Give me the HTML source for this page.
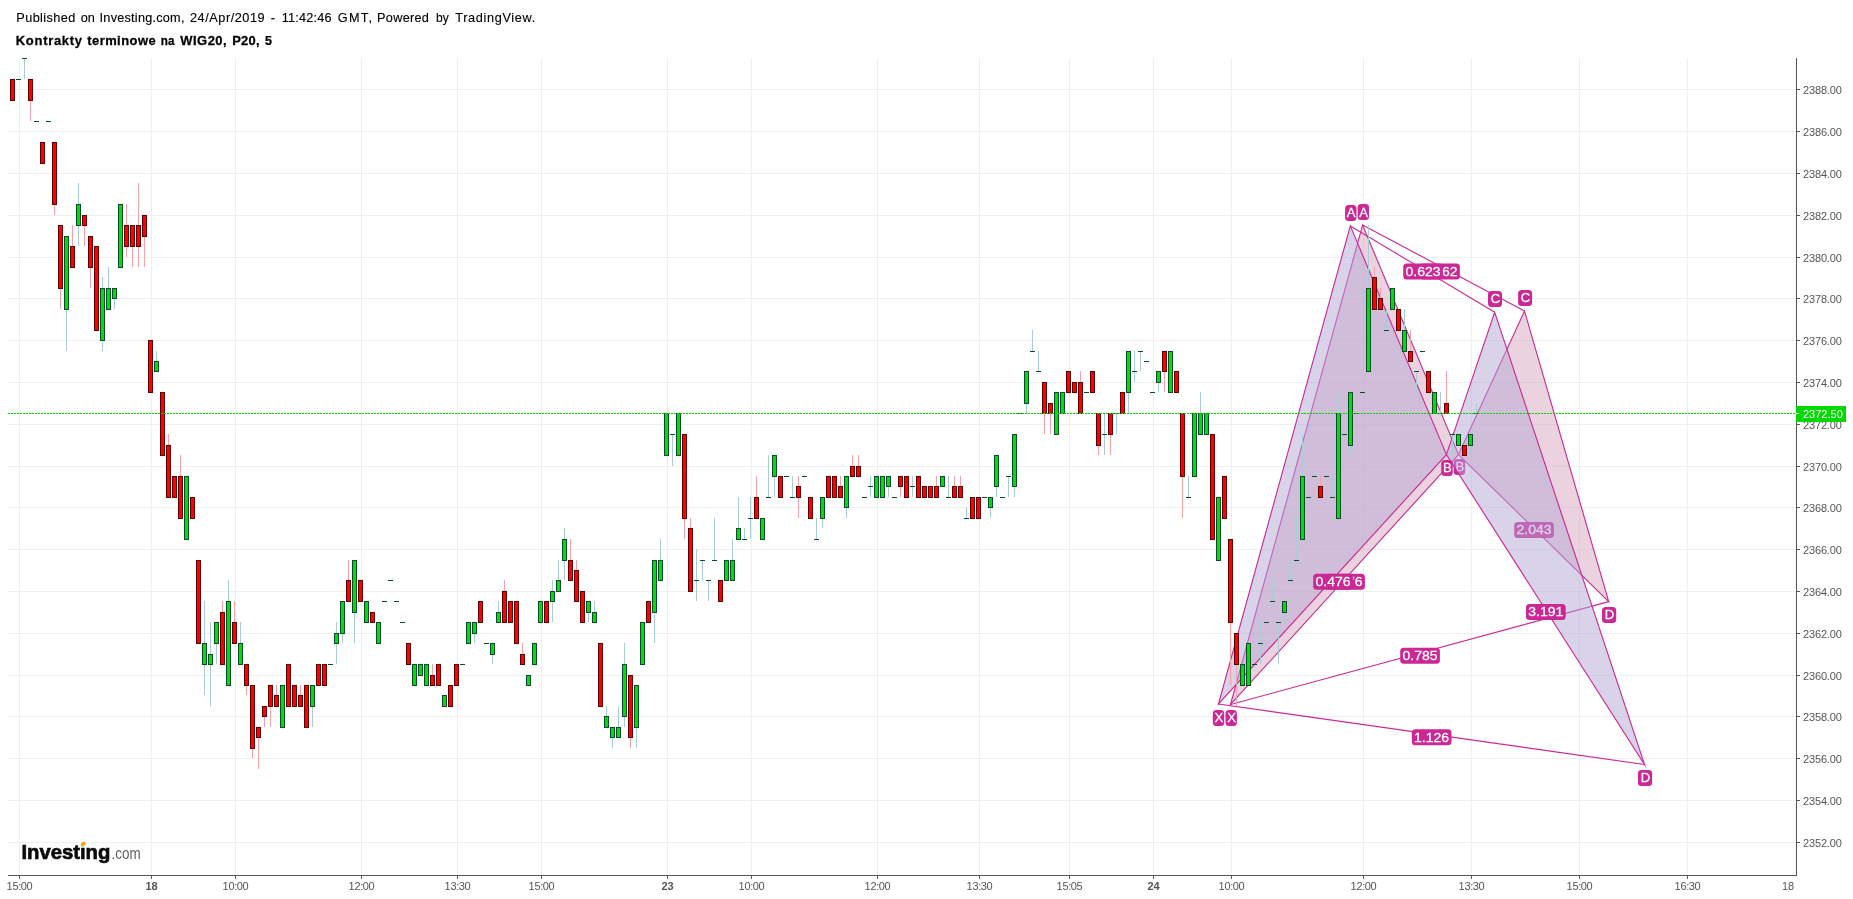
<!DOCTYPE html>
<html><head><meta charset="utf-8"><title>chart</title>
<style>html,body{margin:0;padding:0;background:#fff;}svg{display:block;will-change:transform;}text{font-family:"Liberation Sans",sans-serif;}</style></head><body>
<svg width="1853" height="899" viewBox="0 0 1853 899">
<rect x="0" y="0" width="1853" height="899" fill="#ffffff"/>
<text transform="translate(16.3,21.8) scale(1.060,1)" font-size="12" fill="#000" stroke="#000" stroke-width="0.12" style="letter-spacing:0.368px">Published</text>
<text transform="translate(80.7,21.8) scale(1.060,1)" font-size="12" fill="#000" stroke="#000" stroke-width="0.12" style="letter-spacing:0.019px">on</text>
<text transform="translate(99.6,21.8) scale(1.060,1)" font-size="12" fill="#000" stroke="#000" stroke-width="0.12" style="letter-spacing:0.209px">Investing.com,</text>
<text transform="translate(190.0,21.8) scale(1.060,1)" font-size="12" fill="#000" stroke="#000" stroke-width="0.12" style="letter-spacing:0.504px">24/Apr/2019</text>
<text transform="translate(270.8,21.8) scale(1.060,1)" font-size="12" fill="#000" stroke="#000" stroke-width="0.12" style="letter-spacing:0.000px">-</text>
<text transform="translate(281.7,21.8) scale(1.060,1)" font-size="12" fill="#000" stroke="#000" stroke-width="0.12" style="letter-spacing:0.194px">11:42:46</text>
<text transform="translate(337.8,21.8) scale(1.060,1)" font-size="12" fill="#000" stroke="#000" stroke-width="0.12" style="letter-spacing:1.201px">GMT,</text>
<text transform="translate(377.1,21.8) scale(1.060,1)" font-size="12" fill="#000" stroke="#000" stroke-width="0.12" style="letter-spacing:0.255px">Powered</text>
<text transform="translate(436.1,21.8) scale(1.008,1)" font-size="12" fill="#000" stroke="#000" stroke-width="0.12" style="letter-spacing:0.000px">by</text>
<text transform="translate(455.3,21.8) scale(1.060,1)" font-size="12" fill="#000" stroke="#000" stroke-width="0.12" style="letter-spacing:0.611px">TradingView.</text>
<text transform="translate(15.8,44.6) scale(1.080,1)" font-size="12" font-weight="bold" fill="#000" stroke="#000" stroke-width="0.25" style="letter-spacing:0.674px">Kontrakty</text>
<text transform="translate(87.2,44.6) scale(1.080,1)" font-size="12" font-weight="bold" fill="#000" stroke="#000" stroke-width="0.25" style="letter-spacing:0.428px">terminowe</text>
<text transform="translate(160.8,44.6) scale(0.973,1)" font-size="12" font-weight="bold" fill="#000" stroke="#000" stroke-width="0.25" style="letter-spacing:0.000px">na</text>
<text transform="translate(180.2,44.6) scale(1.080,1)" font-size="12" font-weight="bold" fill="#000" stroke="#000" stroke-width="0.25" style="letter-spacing:0.485px">WIG20,</text>
<text transform="translate(232.2,44.6) scale(1.080,1)" font-size="12" font-weight="bold" fill="#000" stroke="#000" stroke-width="0.25" style="letter-spacing:0.216px">P20,</text>
<text transform="translate(265.0,44.6) scale(1.043,1)" font-size="12" font-weight="bold" fill="#000" stroke="#000" stroke-width="0.25" style="letter-spacing:0.000px">5</text>
<g shape-rendering="crispEdges" fill="#efefef">
<rect x="19" y="58" width="1" height="817"/>
<rect x="151" y="58" width="1" height="817"/>
<rect x="235" y="58" width="1" height="817"/>
<rect x="361" y="58" width="1" height="817"/>
<rect x="457" y="58" width="1" height="817"/>
<rect x="541" y="58" width="1" height="817"/>
<rect x="667" y="58" width="1" height="817"/>
<rect x="751" y="58" width="1" height="817"/>
<rect x="877" y="58" width="1" height="817"/>
<rect x="979" y="58" width="1" height="817"/>
<rect x="1069" y="58" width="1" height="817"/>
<rect x="1153" y="58" width="1" height="817"/>
<rect x="1231" y="58" width="1" height="817"/>
<rect x="1363" y="58" width="1" height="817"/>
<rect x="1471" y="58" width="1" height="817"/>
<rect x="1579" y="58" width="1" height="817"/>
<rect x="1687" y="58" width="1" height="817"/>
<rect x="8" y="842" width="1788" height="1"/>
<rect x="8" y="800" width="1788" height="1"/>
<rect x="8" y="758" width="1788" height="1"/>
<rect x="8" y="716" width="1788" height="1"/>
<rect x="8" y="675" width="1788" height="1"/>
<rect x="8" y="633" width="1788" height="1"/>
<rect x="8" y="591" width="1788" height="1"/>
<rect x="8" y="549" width="1788" height="1"/>
<rect x="8" y="507" width="1788" height="1"/>
<rect x="8" y="466" width="1788" height="1"/>
<rect x="8" y="424" width="1788" height="1"/>
<rect x="8" y="382" width="1788" height="1"/>
<rect x="8" y="340" width="1788" height="1"/>
<rect x="8" y="298" width="1788" height="1"/>
<rect x="8" y="257" width="1788" height="1"/>
<rect x="8" y="215" width="1788" height="1"/>
<rect x="8" y="173" width="1788" height="1"/>
<rect x="8" y="131" width="1788" height="1"/>
<rect x="8" y="89" width="1788" height="1"/>
</g>
<g stroke="#cc2895" stroke-width="1.12" stroke-linejoin="miter" stroke-miterlimit="10">
<polygon points="1230.5,704.5 1362.6,225.1 1458.5,454.6" fill="rgba(213,166,189,0.5)"/>
<polygon points="1458.5,454.6 1524.5,311.0 1608.7,601.6" fill="rgba(213,166,189,0.5)"/>
<polyline points="1362.6,225.1 1524.5,311.0" fill="none"/>
<polyline points="1230.5,704.5 1608.7,601.6" fill="none"/>
</g>
<g><rect x="1225.5" y="710.0" width="11.4" height="16.0" rx="3.5" ry="3.5" fill="#cc2895"/><text transform="translate(1231.6,722.4) scale(1.06,1)" font-size="12.4" fill="#fff" stroke="#fff" stroke-width="0.25" text-anchor="middle">X</text></g>
<g><rect x="1357.6" y="204.1" width="11.4" height="16.0" rx="3.5" ry="3.5" fill="#cc2895"/><text transform="translate(1363.7,216.5) scale(1.06,1)" font-size="12.4" fill="#fff" stroke="#fff" stroke-width="0.25" text-anchor="middle">A</text></g>
<g><rect x="1453.7" y="458.9" width="11.4" height="16.0" rx="3.5" ry="3.5" fill="#cc2895"/><text transform="translate(1459.8,471.3) scale(1.06,1)" font-size="12.4" fill="#fff" stroke="#fff" stroke-width="0.25" text-anchor="middle">B</text></g>
<g><rect x="1518.1" y="290.0" width="14.0" height="16.0" rx="3.5" ry="3.5" fill="#cc2895"/><text transform="translate(1525.5,302.4) scale(1.06,1)" font-size="12.4" fill="#fff" stroke="#fff" stroke-width="0.25" text-anchor="middle">C</text></g>
<g><rect x="1602.0" y="607.0" width="14.2" height="16.0" rx="3.5" ry="3.5" fill="#cc2895"/><text transform="translate(1609.5,619.4) scale(1.06,1)" font-size="12.4" fill="#fff" stroke="#fff" stroke-width="0.25" text-anchor="middle">D</text></g>
<g><rect x="1325.2" y="573.8" width="39.7" height="16.0" rx="3.5" ry="3.5" fill="#cc2895"/><text transform="translate(1345.0,586.2) scale(1.13,1)" font-size="12.4" fill="#fff" stroke="#fff" stroke-width="0.25" text-anchor="middle">0.476</text></g>
<g><rect x="1420.2" y="263.5" width="39.7" height="16.0" rx="3.5" ry="3.5" fill="#cc2895"/><text transform="translate(1440.0,275.9) scale(1.13,1)" font-size="12.4" fill="#fff" stroke="#fff" stroke-width="0.25" text-anchor="middle">0.662</text></g>
<g><rect x="1514.2" y="522.0" width="39.7" height="16.0" rx="3.5" ry="3.5" fill="#cc2895"/><text transform="translate(1534.1,534.4) scale(1.13,1)" font-size="12.4" fill="#fff" stroke="#fff" stroke-width="0.25" text-anchor="middle">2.043</text></g>
<g><rect x="1400.2" y="647.7" width="39.7" height="16.0" rx="3.5" ry="3.5" fill="#cc2895"/><text transform="translate(1420.0,660.1) scale(1.13,1)" font-size="12.4" fill="#fff" stroke="#fff" stroke-width="0.25" text-anchor="middle">0.785</text></g>
<g stroke="#cc2895" stroke-width="1.12" stroke-linejoin="miter" stroke-miterlimit="10">
<polygon points="1218.5,704.0 1350.3,225.9 1446.4,454.6" fill="rgba(180,167,214,0.5)"/>
<polygon points="1446.4,454.6 1494.7,312.3 1644.5,764.5" fill="rgba(180,167,214,0.5)"/>
<polyline points="1350.3,225.9 1494.7,312.3" fill="none"/>
<polyline points="1218.5,704.0 1644.5,764.5" fill="none"/>
</g>
<g><rect x="1212.8" y="710.0" width="11.4" height="16.0" rx="3.5" ry="3.5" fill="#cc2895"/><text transform="translate(1218.9,722.4) scale(1.06,1)" font-size="12.4" fill="#fff" stroke="#fff" stroke-width="0.25" text-anchor="middle">X</text></g>
<g><rect x="1345.1" y="204.9" width="11.4" height="16.0" rx="3.5" ry="3.5" fill="#cc2895"/><text transform="translate(1351.2,217.3) scale(1.06,1)" font-size="12.4" fill="#fff" stroke="#fff" stroke-width="0.25" text-anchor="middle">A</text></g>
<g><rect x="1441.3" y="460.0" width="11.4" height="16.0" rx="3.5" ry="3.5" fill="#cc2895"/><text transform="translate(1447.4,472.4) scale(1.06,1)" font-size="12.4" fill="#fff" stroke="#fff" stroke-width="0.25" text-anchor="middle">B</text></g>
<g><rect x="1488.0" y="290.9" width="14.0" height="16.0" rx="3.5" ry="3.5" fill="#cc2895"/><text transform="translate(1495.4,303.3) scale(1.06,1)" font-size="12.4" fill="#fff" stroke="#fff" stroke-width="0.25" text-anchor="middle">C</text></g>
<g><rect x="1637.9" y="770.0" width="14.2" height="16.0" rx="3.5" ry="3.5" fill="#cc2895"/><text transform="translate(1645.4,782.4) scale(1.06,1)" font-size="12.4" fill="#fff" stroke="#fff" stroke-width="0.25" text-anchor="middle">D</text></g>
<g><rect x="1313.2" y="573.8" width="39.7" height="16.0" rx="3.5" ry="3.5" fill="#cc2895"/><text transform="translate(1333.0,586.2) scale(1.13,1)" font-size="12.4" fill="#fff" stroke="#fff" stroke-width="0.25" text-anchor="middle">0.476</text></g>
<g><rect x="1403.2" y="263.5" width="39.7" height="16.0" rx="3.5" ry="3.5" fill="#cc2895"/><text transform="translate(1423.0,275.9) scale(1.13,1)" font-size="12.4" fill="#fff" stroke="#fff" stroke-width="0.25" text-anchor="middle">0.623</text></g>
<g><rect x="1526.0" y="603.9" width="39.7" height="16.0" rx="3.5" ry="3.5" fill="#cc2895"/><text transform="translate(1545.8,616.3) scale(1.13,1)" font-size="12.4" fill="#fff" stroke="#fff" stroke-width="0.25" text-anchor="middle">3.191</text></g>
<g><rect x="1411.8" y="729.3" width="39.7" height="16.0" rx="3.5" ry="3.5" fill="#cc2895"/><text transform="translate(1431.6,741.7) scale(1.13,1)" font-size="12.4" fill="#fff" stroke="#fff" stroke-width="0.25" text-anchor="middle">1.126</text></g>
<g shape-rendering="crispEdges">
<rect x="10" y="79" width="5" height="22" fill="#5a0000"/>
<rect x="11" y="80" width="3" height="20" fill="#ff0000"/>
<rect x="16" y="79" width="5" height="1" fill="#0b4a2c"/>
<rect x="24" y="59" width="1" height="20" fill="#a9ccd6"/>
<rect x="22" y="58" width="5" height="1" fill="#0b4a2c"/>
<rect x="30" y="101" width="1" height="20" fill="#f4a3ac"/>
<rect x="28" y="79" width="5" height="22" fill="#5a0000"/>
<rect x="29" y="80" width="3" height="20" fill="#ff0000"/>
<rect x="34" y="121" width="5" height="1" fill="#0b4a2c"/>
<rect x="40" y="142" width="5" height="22" fill="#5a0000"/>
<rect x="41" y="143" width="3" height="20" fill="#ff0000"/>
<rect x="46" y="121" width="5" height="1" fill="#0b4a2c"/>
<rect x="54" y="205" width="1" height="10" fill="#f4a3ac"/>
<rect x="52" y="142" width="5" height="63" fill="#5a0000"/>
<rect x="53" y="143" width="3" height="61" fill="#ff0000"/>
<rect x="60" y="289" width="1" height="20" fill="#f4a3ac"/>
<rect x="58" y="225" width="5" height="64" fill="#5a0000"/>
<rect x="59" y="226" width="3" height="62" fill="#ff0000"/>
<rect x="66" y="310" width="1" height="41" fill="#a9ccd6"/>
<rect x="64" y="236" width="5" height="74" fill="#0b4a2c"/>
<rect x="65" y="237" width="3" height="72" fill="#00e000"/>
<rect x="72" y="225" width="1" height="21" fill="#f4a3ac"/>
<rect x="70" y="246" width="5" height="22" fill="#5a0000"/>
<rect x="71" y="247" width="3" height="20" fill="#ff0000"/>
<rect x="78" y="183" width="1" height="21" fill="#a9ccd6"/>
<rect x="78" y="226" width="1" height="20" fill="#a9ccd6"/>
<rect x="76" y="204" width="5" height="22" fill="#0b4a2c"/>
<rect x="77" y="205" width="3" height="20" fill="#00e000"/>
<rect x="84" y="226" width="1" height="20" fill="#f4a3ac"/>
<rect x="82" y="215" width="5" height="11" fill="#5a0000"/>
<rect x="83" y="216" width="3" height="9" fill="#ff0000"/>
<rect x="90" y="268" width="1" height="20" fill="#f4a3ac"/>
<rect x="88" y="236" width="5" height="32" fill="#5a0000"/>
<rect x="89" y="237" width="3" height="30" fill="#ff0000"/>
<rect x="94" y="246" width="5" height="85" fill="#5a0000"/>
<rect x="95" y="247" width="3" height="83" fill="#ff0000"/>
<rect x="102" y="277" width="1" height="11" fill="#a9ccd6"/>
<rect x="102" y="341" width="1" height="10" fill="#a9ccd6"/>
<rect x="100" y="288" width="5" height="53" fill="#0b4a2c"/>
<rect x="101" y="289" width="3" height="51" fill="#00e000"/>
<rect x="108" y="267" width="1" height="21" fill="#a9ccd6"/>
<rect x="106" y="288" width="5" height="22" fill="#0b4a2c"/>
<rect x="107" y="289" width="3" height="20" fill="#00e000"/>
<rect x="114" y="299" width="1" height="10" fill="#a9ccd6"/>
<rect x="112" y="288" width="5" height="11" fill="#0b4a2c"/>
<rect x="113" y="289" width="3" height="9" fill="#00e000"/>
<rect x="118" y="204" width="5" height="64" fill="#0b4a2c"/>
<rect x="119" y="205" width="3" height="62" fill="#00e000"/>
<rect x="126" y="204" width="1" height="21" fill="#f4a3ac"/>
<rect x="126" y="247" width="1" height="10" fill="#f4a3ac"/>
<rect x="124" y="225" width="5" height="22" fill="#5a0000"/>
<rect x="125" y="226" width="3" height="20" fill="#ff0000"/>
<rect x="132" y="247" width="1" height="20" fill="#f4a3ac"/>
<rect x="130" y="225" width="5" height="22" fill="#5a0000"/>
<rect x="131" y="226" width="3" height="20" fill="#ff0000"/>
<rect x="138" y="183" width="1" height="42" fill="#f4a3ac"/>
<rect x="138" y="247" width="1" height="20" fill="#f4a3ac"/>
<rect x="136" y="225" width="5" height="22" fill="#5a0000"/>
<rect x="137" y="226" width="3" height="20" fill="#ff0000"/>
<rect x="144" y="237" width="1" height="30" fill="#f4a3ac"/>
<rect x="142" y="215" width="5" height="22" fill="#5a0000"/>
<rect x="143" y="216" width="3" height="20" fill="#ff0000"/>
<rect x="148" y="340" width="5" height="53" fill="#5a0000"/>
<rect x="149" y="341" width="3" height="51" fill="#ff0000"/>
<rect x="156" y="351" width="1" height="10" fill="#a9ccd6"/>
<rect x="154" y="361" width="5" height="11" fill="#0b4a2c"/>
<rect x="155" y="362" width="3" height="9" fill="#00e000"/>
<rect x="160" y="392" width="5" height="64" fill="#5a0000"/>
<rect x="161" y="393" width="3" height="62" fill="#ff0000"/>
<rect x="168" y="434" width="1" height="11" fill="#f4a3ac"/>
<rect x="166" y="445" width="5" height="53" fill="#5a0000"/>
<rect x="167" y="446" width="3" height="51" fill="#ff0000"/>
<rect x="172" y="476" width="5" height="22" fill="#5a0000"/>
<rect x="173" y="477" width="3" height="20" fill="#ff0000"/>
<rect x="180" y="455" width="1" height="21" fill="#f4a3ac"/>
<rect x="178" y="476" width="5" height="43" fill="#5a0000"/>
<rect x="179" y="477" width="3" height="41" fill="#ff0000"/>
<rect x="184" y="476" width="5" height="64" fill="#0b4a2c"/>
<rect x="185" y="477" width="3" height="62" fill="#00e000"/>
<rect x="190" y="497" width="5" height="22" fill="#5a0000"/>
<rect x="191" y="498" width="3" height="20" fill="#ff0000"/>
<rect x="196" y="560" width="5" height="84" fill="#5a0000"/>
<rect x="197" y="561" width="3" height="82" fill="#ff0000"/>
<rect x="204" y="601" width="1" height="42" fill="#a9ccd6"/>
<rect x="204" y="665" width="1" height="30" fill="#a9ccd6"/>
<rect x="202" y="643" width="5" height="22" fill="#0b4a2c"/>
<rect x="203" y="644" width="3" height="20" fill="#00e000"/>
<rect x="210" y="622" width="1" height="32" fill="#a9ccd6"/>
<rect x="210" y="665" width="1" height="41" fill="#a9ccd6"/>
<rect x="208" y="654" width="5" height="11" fill="#0b4a2c"/>
<rect x="209" y="655" width="3" height="9" fill="#00e000"/>
<rect x="216" y="644" width="1" height="20" fill="#a9ccd6"/>
<rect x="214" y="622" width="5" height="22" fill="#0b4a2c"/>
<rect x="215" y="623" width="3" height="20" fill="#00e000"/>
<rect x="222" y="601" width="1" height="11" fill="#f4a3ac"/>
<rect x="220" y="612" width="5" height="53" fill="#5a0000"/>
<rect x="221" y="613" width="3" height="51" fill="#ff0000"/>
<rect x="228" y="580" width="1" height="21" fill="#a9ccd6"/>
<rect x="226" y="601" width="5" height="85" fill="#0b4a2c"/>
<rect x="227" y="602" width="3" height="83" fill="#00e000"/>
<rect x="234" y="601" width="1" height="21" fill="#f4a3ac"/>
<rect x="232" y="622" width="5" height="22" fill="#5a0000"/>
<rect x="233" y="623" width="3" height="20" fill="#ff0000"/>
<rect x="240" y="622" width="1" height="21" fill="#a9ccd6"/>
<rect x="238" y="643" width="5" height="22" fill="#0b4a2c"/>
<rect x="239" y="644" width="3" height="20" fill="#00e000"/>
<rect x="246" y="686" width="1" height="9" fill="#f4a3ac"/>
<rect x="244" y="664" width="5" height="22" fill="#5a0000"/>
<rect x="245" y="665" width="3" height="20" fill="#ff0000"/>
<rect x="252" y="749" width="1" height="9" fill="#f4a3ac"/>
<rect x="250" y="685" width="5" height="64" fill="#5a0000"/>
<rect x="251" y="686" width="3" height="62" fill="#ff0000"/>
<rect x="258" y="738" width="1" height="31" fill="#f4a3ac"/>
<rect x="256" y="727" width="5" height="11" fill="#5a0000"/>
<rect x="257" y="728" width="3" height="9" fill="#ff0000"/>
<rect x="264" y="717" width="1" height="10" fill="#f4a3ac"/>
<rect x="262" y="706" width="5" height="11" fill="#5a0000"/>
<rect x="263" y="707" width="3" height="9" fill="#ff0000"/>
<rect x="270" y="707" width="1" height="20" fill="#f4a3ac"/>
<rect x="268" y="685" width="5" height="22" fill="#5a0000"/>
<rect x="269" y="686" width="3" height="20" fill="#ff0000"/>
<rect x="276" y="685" width="1" height="10" fill="#f4a3ac"/>
<rect x="274" y="695" width="5" height="12" fill="#5a0000"/>
<rect x="275" y="696" width="3" height="10" fill="#ff0000"/>
<rect x="280" y="685" width="5" height="43" fill="#0b4a2c"/>
<rect x="281" y="686" width="3" height="41" fill="#00e000"/>
<rect x="286" y="664" width="5" height="43" fill="#5a0000"/>
<rect x="287" y="665" width="3" height="41" fill="#ff0000"/>
<rect x="292" y="685" width="5" height="22" fill="#5a0000"/>
<rect x="293" y="686" width="3" height="20" fill="#ff0000"/>
<rect x="300" y="685" width="1" height="10" fill="#f4a3ac"/>
<rect x="298" y="695" width="5" height="12" fill="#5a0000"/>
<rect x="299" y="696" width="3" height="10" fill="#ff0000"/>
<rect x="304" y="685" width="5" height="43" fill="#5a0000"/>
<rect x="305" y="686" width="3" height="41" fill="#ff0000"/>
<rect x="312" y="707" width="1" height="20" fill="#a9ccd6"/>
<rect x="310" y="685" width="5" height="22" fill="#0b4a2c"/>
<rect x="311" y="686" width="3" height="20" fill="#00e000"/>
<rect x="316" y="664" width="5" height="22" fill="#5a0000"/>
<rect x="317" y="665" width="3" height="20" fill="#ff0000"/>
<rect x="322" y="664" width="5" height="22" fill="#5a0000"/>
<rect x="323" y="665" width="3" height="20" fill="#ff0000"/>
<rect x="328" y="664" width="5" height="1" fill="#0b4a2c"/>
<rect x="336" y="622" width="1" height="11" fill="#a9ccd6"/>
<rect x="336" y="644" width="1" height="20" fill="#a9ccd6"/>
<rect x="334" y="633" width="5" height="11" fill="#0b4a2c"/>
<rect x="335" y="634" width="3" height="9" fill="#00e000"/>
<rect x="342" y="634" width="1" height="9" fill="#a9ccd6"/>
<rect x="340" y="601" width="5" height="33" fill="#0b4a2c"/>
<rect x="341" y="602" width="3" height="31" fill="#00e000"/>
<rect x="348" y="560" width="1" height="20" fill="#f4a3ac"/>
<rect x="346" y="580" width="5" height="22" fill="#5a0000"/>
<rect x="347" y="581" width="3" height="20" fill="#ff0000"/>
<rect x="354" y="613" width="1" height="30" fill="#a9ccd6"/>
<rect x="352" y="560" width="5" height="53" fill="#0b4a2c"/>
<rect x="353" y="561" width="3" height="51" fill="#00e000"/>
<rect x="358" y="580" width="5" height="22" fill="#5a0000"/>
<rect x="359" y="581" width="3" height="20" fill="#ff0000"/>
<rect x="364" y="601" width="5" height="22" fill="#0b4a2c"/>
<rect x="365" y="602" width="3" height="20" fill="#00e000"/>
<rect x="370" y="612" width="5" height="11" fill="#5a0000"/>
<rect x="371" y="613" width="3" height="9" fill="#ff0000"/>
<rect x="376" y="622" width="5" height="22" fill="#0b4a2c"/>
<rect x="377" y="623" width="3" height="20" fill="#00e000"/>
<rect x="382" y="601" width="5" height="1" fill="#0b4a2c"/>
<rect x="388" y="580" width="5" height="1" fill="#0b4a2c"/>
<rect x="394" y="601" width="5" height="1" fill="#0b4a2c"/>
<rect x="400" y="622" width="5" height="1" fill="#0b4a2c"/>
<rect x="406" y="643" width="5" height="22" fill="#5a0000"/>
<rect x="407" y="644" width="3" height="20" fill="#ff0000"/>
<rect x="412" y="664" width="5" height="22" fill="#0b4a2c"/>
<rect x="413" y="665" width="3" height="20" fill="#00e000"/>
<rect x="418" y="664" width="5" height="12" fill="#0b4a2c"/>
<rect x="419" y="665" width="3" height="10" fill="#00e000"/>
<rect x="424" y="664" width="5" height="22" fill="#0b4a2c"/>
<rect x="425" y="665" width="3" height="20" fill="#00e000"/>
<rect x="432" y="664" width="1" height="11" fill="#f4a3ac"/>
<rect x="430" y="675" width="5" height="11" fill="#5a0000"/>
<rect x="431" y="676" width="3" height="9" fill="#ff0000"/>
<rect x="436" y="664" width="5" height="22" fill="#5a0000"/>
<rect x="437" y="665" width="3" height="20" fill="#ff0000"/>
<rect x="442" y="695" width="5" height="12" fill="#0b4a2c"/>
<rect x="443" y="696" width="3" height="10" fill="#00e000"/>
<rect x="448" y="685" width="5" height="22" fill="#5a0000"/>
<rect x="449" y="686" width="3" height="20" fill="#ff0000"/>
<rect x="454" y="664" width="5" height="22" fill="#5a0000"/>
<rect x="455" y="665" width="3" height="20" fill="#ff0000"/>
<rect x="460" y="664" width="5" height="1" fill="#0b4a2c"/>
<rect x="466" y="622" width="5" height="22" fill="#0b4a2c"/>
<rect x="467" y="623" width="3" height="20" fill="#00e000"/>
<rect x="474" y="634" width="1" height="9" fill="#a9ccd6"/>
<rect x="472" y="622" width="5" height="12" fill="#0b4a2c"/>
<rect x="473" y="623" width="3" height="10" fill="#00e000"/>
<rect x="478" y="601" width="5" height="22" fill="#5a0000"/>
<rect x="479" y="602" width="3" height="20" fill="#ff0000"/>
<rect x="484" y="643" width="5" height="1" fill="#0b4a2c"/>
<rect x="492" y="655" width="1" height="9" fill="#a9ccd6"/>
<rect x="490" y="643" width="5" height="12" fill="#0b4a2c"/>
<rect x="491" y="644" width="3" height="10" fill="#00e000"/>
<rect x="498" y="601" width="1" height="11" fill="#a9ccd6"/>
<rect x="496" y="612" width="5" height="11" fill="#0b4a2c"/>
<rect x="497" y="613" width="3" height="9" fill="#00e000"/>
<rect x="504" y="580" width="1" height="11" fill="#f4a3ac"/>
<rect x="502" y="591" width="5" height="32" fill="#5a0000"/>
<rect x="503" y="592" width="3" height="30" fill="#ff0000"/>
<rect x="508" y="601" width="5" height="22" fill="#5a0000"/>
<rect x="509" y="602" width="3" height="20" fill="#ff0000"/>
<rect x="514" y="601" width="5" height="43" fill="#5a0000"/>
<rect x="515" y="602" width="3" height="41" fill="#ff0000"/>
<rect x="522" y="643" width="1" height="11" fill="#f4a3ac"/>
<rect x="520" y="654" width="5" height="11" fill="#5a0000"/>
<rect x="521" y="655" width="3" height="9" fill="#ff0000"/>
<rect x="526" y="675" width="5" height="11" fill="#0b4a2c"/>
<rect x="527" y="676" width="3" height="9" fill="#00e000"/>
<rect x="532" y="643" width="5" height="22" fill="#0b4a2c"/>
<rect x="533" y="644" width="3" height="20" fill="#00e000"/>
<rect x="538" y="601" width="5" height="22" fill="#0b4a2c"/>
<rect x="539" y="602" width="3" height="20" fill="#00e000"/>
<rect x="544" y="601" width="5" height="22" fill="#5a0000"/>
<rect x="545" y="602" width="3" height="20" fill="#ff0000"/>
<rect x="552" y="580" width="1" height="11" fill="#a9ccd6"/>
<rect x="552" y="602" width="1" height="20" fill="#a9ccd6"/>
<rect x="550" y="591" width="5" height="11" fill="#0b4a2c"/>
<rect x="551" y="592" width="3" height="9" fill="#00e000"/>
<rect x="558" y="560" width="1" height="20" fill="#a9ccd6"/>
<rect x="556" y="580" width="5" height="12" fill="#0b4a2c"/>
<rect x="557" y="581" width="3" height="10" fill="#00e000"/>
<rect x="564" y="528" width="1" height="11" fill="#a9ccd6"/>
<rect x="564" y="561" width="1" height="19" fill="#a9ccd6"/>
<rect x="562" y="539" width="5" height="22" fill="#0b4a2c"/>
<rect x="563" y="540" width="3" height="20" fill="#00e000"/>
<rect x="570" y="539" width="1" height="21" fill="#f4a3ac"/>
<rect x="568" y="560" width="5" height="21" fill="#5a0000"/>
<rect x="569" y="561" width="3" height="19" fill="#ff0000"/>
<rect x="576" y="560" width="1" height="10" fill="#f4a3ac"/>
<rect x="574" y="570" width="5" height="32" fill="#5a0000"/>
<rect x="575" y="571" width="3" height="30" fill="#ff0000"/>
<rect x="580" y="591" width="5" height="32" fill="#5a0000"/>
<rect x="581" y="592" width="3" height="30" fill="#ff0000"/>
<rect x="588" y="613" width="1" height="9" fill="#a9ccd6"/>
<rect x="586" y="601" width="5" height="12" fill="#0b4a2c"/>
<rect x="587" y="602" width="3" height="10" fill="#00e000"/>
<rect x="594" y="601" width="1" height="11" fill="#a9ccd6"/>
<rect x="592" y="612" width="5" height="11" fill="#0b4a2c"/>
<rect x="593" y="613" width="3" height="9" fill="#00e000"/>
<rect x="598" y="643" width="5" height="64" fill="#5a0000"/>
<rect x="599" y="644" width="3" height="62" fill="#ff0000"/>
<rect x="606" y="706" width="1" height="10" fill="#a9ccd6"/>
<rect x="604" y="716" width="5" height="12" fill="#0b4a2c"/>
<rect x="605" y="717" width="3" height="10" fill="#00e000"/>
<rect x="612" y="738" width="1" height="10" fill="#a9ccd6"/>
<rect x="610" y="727" width="5" height="11" fill="#0b4a2c"/>
<rect x="611" y="728" width="3" height="9" fill="#00e000"/>
<rect x="618" y="706" width="1" height="21" fill="#a9ccd6"/>
<rect x="616" y="727" width="5" height="11" fill="#0b4a2c"/>
<rect x="617" y="728" width="3" height="9" fill="#00e000"/>
<rect x="624" y="643" width="1" height="21" fill="#a9ccd6"/>
<rect x="624" y="717" width="1" height="10" fill="#a9ccd6"/>
<rect x="622" y="664" width="5" height="53" fill="#0b4a2c"/>
<rect x="623" y="665" width="3" height="51" fill="#00e000"/>
<rect x="630" y="738" width="1" height="10" fill="#f4a3ac"/>
<rect x="628" y="675" width="5" height="63" fill="#5a0000"/>
<rect x="629" y="676" width="3" height="61" fill="#ff0000"/>
<rect x="636" y="728" width="1" height="20" fill="#a9ccd6"/>
<rect x="634" y="685" width="5" height="43" fill="#0b4a2c"/>
<rect x="635" y="686" width="3" height="41" fill="#00e000"/>
<rect x="640" y="622" width="5" height="43" fill="#0b4a2c"/>
<rect x="641" y="623" width="3" height="41" fill="#00e000"/>
<rect x="646" y="601" width="5" height="22" fill="#5a0000"/>
<rect x="647" y="602" width="3" height="20" fill="#ff0000"/>
<rect x="654" y="613" width="1" height="30" fill="#a9ccd6"/>
<rect x="652" y="560" width="5" height="53" fill="#0b4a2c"/>
<rect x="653" y="561" width="3" height="51" fill="#00e000"/>
<rect x="660" y="539" width="1" height="21" fill="#a9ccd6"/>
<rect x="658" y="560" width="5" height="21" fill="#0b4a2c"/>
<rect x="659" y="561" width="3" height="19" fill="#00e000"/>
<rect x="664" y="413" width="5" height="43" fill="#0b4a2c"/>
<rect x="665" y="414" width="3" height="41" fill="#00e000"/>
<rect x="672" y="435" width="1" height="31" fill="#a9ccd6"/>
<rect x="670" y="434" width="5" height="1" fill="#0b4a2c"/>
<rect x="676" y="413" width="5" height="43" fill="#0b4a2c"/>
<rect x="677" y="414" width="3" height="41" fill="#00e000"/>
<rect x="684" y="519" width="1" height="20" fill="#f4a3ac"/>
<rect x="682" y="434" width="5" height="85" fill="#5a0000"/>
<rect x="683" y="435" width="3" height="83" fill="#ff0000"/>
<rect x="690" y="518" width="1" height="10" fill="#f4a3ac"/>
<rect x="688" y="528" width="5" height="64" fill="#5a0000"/>
<rect x="689" y="529" width="3" height="62" fill="#ff0000"/>
<rect x="696" y="549" width="1" height="31" fill="#a9ccd6"/>
<rect x="696" y="581" width="1" height="20" fill="#a9ccd6"/>
<rect x="694" y="580" width="5" height="1" fill="#0b4a2c"/>
<rect x="702" y="561" width="1" height="19" fill="#a9ccd6"/>
<rect x="700" y="560" width="5" height="1" fill="#0b4a2c"/>
<rect x="708" y="581" width="1" height="20" fill="#a9ccd6"/>
<rect x="706" y="580" width="5" height="1" fill="#0b4a2c"/>
<rect x="714" y="518" width="1" height="42" fill="#a9ccd6"/>
<rect x="712" y="560" width="5" height="1" fill="#0b4a2c"/>
<rect x="718" y="580" width="5" height="22" fill="#5a0000"/>
<rect x="719" y="581" width="3" height="20" fill="#ff0000"/>
<rect x="724" y="560" width="5" height="21" fill="#0b4a2c"/>
<rect x="725" y="561" width="3" height="19" fill="#00e000"/>
<rect x="732" y="539" width="1" height="21" fill="#a9ccd6"/>
<rect x="730" y="560" width="5" height="21" fill="#0b4a2c"/>
<rect x="731" y="561" width="3" height="19" fill="#00e000"/>
<rect x="738" y="497" width="1" height="31" fill="#a9ccd6"/>
<rect x="736" y="528" width="5" height="12" fill="#0b4a2c"/>
<rect x="737" y="529" width="3" height="10" fill="#00e000"/>
<rect x="744" y="528" width="1" height="11" fill="#a9ccd6"/>
<rect x="742" y="539" width="5" height="1" fill="#0b4a2c"/>
<rect x="750" y="497" width="1" height="21" fill="#a9ccd6"/>
<rect x="750" y="519" width="1" height="20" fill="#a9ccd6"/>
<rect x="748" y="518" width="5" height="1" fill="#0b4a2c"/>
<rect x="756" y="476" width="1" height="21" fill="#f4a3ac"/>
<rect x="754" y="497" width="5" height="22" fill="#5a0000"/>
<rect x="755" y="498" width="3" height="20" fill="#ff0000"/>
<rect x="760" y="518" width="5" height="22" fill="#0b4a2c"/>
<rect x="761" y="519" width="3" height="20" fill="#00e000"/>
<rect x="768" y="455" width="1" height="42" fill="#a9ccd6"/>
<rect x="766" y="497" width="5" height="1" fill="#0b4a2c"/>
<rect x="774" y="477" width="1" height="20" fill="#a9ccd6"/>
<rect x="772" y="455" width="5" height="22" fill="#0b4a2c"/>
<rect x="773" y="456" width="3" height="20" fill="#00e000"/>
<rect x="778" y="476" width="5" height="22" fill="#5a0000"/>
<rect x="779" y="477" width="3" height="20" fill="#ff0000"/>
<rect x="784" y="476" width="5" height="1" fill="#0b4a2c"/>
<rect x="792" y="476" width="1" height="21" fill="#a9ccd6"/>
<rect x="790" y="497" width="5" height="1" fill="#0b4a2c"/>
<rect x="798" y="476" width="1" height="10" fill="#f4a3ac"/>
<rect x="798" y="498" width="1" height="20" fill="#f4a3ac"/>
<rect x="796" y="486" width="5" height="12" fill="#5a0000"/>
<rect x="797" y="487" width="3" height="10" fill="#ff0000"/>
<rect x="802" y="476" width="5" height="1" fill="#0b4a2c"/>
<rect x="808" y="497" width="5" height="22" fill="#5a0000"/>
<rect x="809" y="498" width="3" height="20" fill="#ff0000"/>
<rect x="816" y="518" width="1" height="21" fill="#a9ccd6"/>
<rect x="814" y="539" width="5" height="1" fill="#0b4a2c"/>
<rect x="822" y="519" width="1" height="9" fill="#a9ccd6"/>
<rect x="820" y="497" width="5" height="22" fill="#0b4a2c"/>
<rect x="821" y="498" width="3" height="20" fill="#00e000"/>
<rect x="826" y="476" width="5" height="22" fill="#5a0000"/>
<rect x="827" y="477" width="3" height="20" fill="#ff0000"/>
<rect x="832" y="476" width="5" height="22" fill="#5a0000"/>
<rect x="833" y="477" width="3" height="20" fill="#ff0000"/>
<rect x="840" y="476" width="1" height="10" fill="#f4a3ac"/>
<rect x="838" y="486" width="5" height="12" fill="#5a0000"/>
<rect x="839" y="487" width="3" height="10" fill="#ff0000"/>
<rect x="846" y="508" width="1" height="10" fill="#a9ccd6"/>
<rect x="844" y="476" width="5" height="32" fill="#0b4a2c"/>
<rect x="845" y="477" width="3" height="30" fill="#00e000"/>
<rect x="852" y="455" width="1" height="11" fill="#f4a3ac"/>
<rect x="850" y="466" width="5" height="11" fill="#5a0000"/>
<rect x="851" y="467" width="3" height="9" fill="#ff0000"/>
<rect x="858" y="455" width="1" height="11" fill="#f4a3ac"/>
<rect x="856" y="466" width="5" height="11" fill="#5a0000"/>
<rect x="857" y="467" width="3" height="9" fill="#ff0000"/>
<rect x="862" y="497" width="5" height="1" fill="#0b4a2c"/>
<rect x="870" y="476" width="1" height="10" fill="#a9ccd6"/>
<rect x="870" y="487" width="1" height="10" fill="#a9ccd6"/>
<rect x="868" y="486" width="5" height="1" fill="#0b4a2c"/>
<rect x="874" y="476" width="5" height="22" fill="#0b4a2c"/>
<rect x="875" y="477" width="3" height="20" fill="#00e000"/>
<rect x="880" y="476" width="5" height="22" fill="#0b4a2c"/>
<rect x="881" y="477" width="3" height="20" fill="#00e000"/>
<rect x="888" y="487" width="1" height="10" fill="#a9ccd6"/>
<rect x="886" y="476" width="5" height="11" fill="#0b4a2c"/>
<rect x="887" y="477" width="3" height="9" fill="#00e000"/>
<rect x="892" y="497" width="5" height="1" fill="#0b4a2c"/>
<rect x="900" y="487" width="1" height="10" fill="#f4a3ac"/>
<rect x="898" y="476" width="5" height="11" fill="#5a0000"/>
<rect x="899" y="477" width="3" height="9" fill="#ff0000"/>
<rect x="904" y="476" width="5" height="22" fill="#5a0000"/>
<rect x="905" y="477" width="3" height="20" fill="#ff0000"/>
<rect x="912" y="476" width="1" height="10" fill="#a9ccd6"/>
<rect x="912" y="487" width="1" height="10" fill="#a9ccd6"/>
<rect x="910" y="486" width="5" height="1" fill="#0b4a2c"/>
<rect x="916" y="476" width="5" height="22" fill="#5a0000"/>
<rect x="917" y="477" width="3" height="20" fill="#ff0000"/>
<rect x="922" y="486" width="5" height="12" fill="#5a0000"/>
<rect x="923" y="487" width="3" height="10" fill="#ff0000"/>
<rect x="928" y="486" width="5" height="12" fill="#5a0000"/>
<rect x="929" y="487" width="3" height="10" fill="#ff0000"/>
<rect x="936" y="476" width="1" height="10" fill="#f4a3ac"/>
<rect x="934" y="486" width="5" height="12" fill="#5a0000"/>
<rect x="935" y="487" width="3" height="10" fill="#ff0000"/>
<rect x="940" y="476" width="5" height="11" fill="#0b4a2c"/>
<rect x="941" y="477" width="3" height="9" fill="#00e000"/>
<rect x="948" y="476" width="1" height="21" fill="#a9ccd6"/>
<rect x="946" y="497" width="5" height="1" fill="#0b4a2c"/>
<rect x="954" y="476" width="1" height="10" fill="#f4a3ac"/>
<rect x="952" y="486" width="5" height="12" fill="#5a0000"/>
<rect x="953" y="487" width="3" height="10" fill="#ff0000"/>
<rect x="960" y="476" width="1" height="10" fill="#f4a3ac"/>
<rect x="958" y="486" width="5" height="12" fill="#5a0000"/>
<rect x="959" y="487" width="3" height="10" fill="#ff0000"/>
<rect x="966" y="507" width="1" height="11" fill="#a9ccd6"/>
<rect x="964" y="518" width="5" height="1" fill="#0b4a2c"/>
<rect x="970" y="497" width="5" height="22" fill="#5a0000"/>
<rect x="971" y="498" width="3" height="20" fill="#ff0000"/>
<rect x="976" y="497" width="5" height="22" fill="#5a0000"/>
<rect x="977" y="498" width="3" height="20" fill="#ff0000"/>
<rect x="982" y="497" width="5" height="1" fill="#0b4a2c"/>
<rect x="990" y="508" width="1" height="10" fill="#a9ccd6"/>
<rect x="988" y="497" width="5" height="11" fill="#0b4a2c"/>
<rect x="989" y="498" width="3" height="9" fill="#00e000"/>
<rect x="996" y="487" width="1" height="10" fill="#a9ccd6"/>
<rect x="994" y="455" width="5" height="32" fill="#0b4a2c"/>
<rect x="995" y="456" width="3" height="30" fill="#00e000"/>
<rect x="1000" y="497" width="5" height="1" fill="#0b4a2c"/>
<rect x="1008" y="477" width="1" height="20" fill="#a9ccd6"/>
<rect x="1006" y="476" width="5" height="1" fill="#0b4a2c"/>
<rect x="1014" y="487" width="1" height="10" fill="#a9ccd6"/>
<rect x="1012" y="434" width="5" height="53" fill="#0b4a2c"/>
<rect x="1013" y="435" width="3" height="51" fill="#00e000"/>
<rect x="1018" y="413" width="5" height="1" fill="#0b4a2c"/>
<rect x="1026" y="404" width="1" height="9" fill="#a9ccd6"/>
<rect x="1024" y="371" width="5" height="33" fill="#0b4a2c"/>
<rect x="1025" y="372" width="3" height="31" fill="#00e000"/>
<rect x="1032" y="330" width="1" height="21" fill="#a9ccd6"/>
<rect x="1030" y="351" width="5" height="1" fill="#0b4a2c"/>
<rect x="1038" y="351" width="1" height="20" fill="#a9ccd6"/>
<rect x="1036" y="371" width="5" height="1" fill="#0b4a2c"/>
<rect x="1044" y="414" width="1" height="20" fill="#f4a3ac"/>
<rect x="1042" y="382" width="5" height="32" fill="#5a0000"/>
<rect x="1043" y="383" width="3" height="30" fill="#ff0000"/>
<rect x="1050" y="414" width="1" height="20" fill="#f4a3ac"/>
<rect x="1048" y="403" width="5" height="11" fill="#5a0000"/>
<rect x="1049" y="404" width="3" height="9" fill="#ff0000"/>
<rect x="1054" y="392" width="5" height="43" fill="#0b4a2c"/>
<rect x="1055" y="393" width="3" height="41" fill="#00e000"/>
<rect x="1060" y="392" width="5" height="22" fill="#0b4a2c"/>
<rect x="1061" y="393" width="3" height="20" fill="#00e000"/>
<rect x="1066" y="371" width="5" height="22" fill="#5a0000"/>
<rect x="1067" y="372" width="3" height="20" fill="#ff0000"/>
<rect x="1072" y="382" width="5" height="11" fill="#5a0000"/>
<rect x="1073" y="383" width="3" height="9" fill="#ff0000"/>
<rect x="1080" y="371" width="1" height="11" fill="#f4a3ac"/>
<rect x="1078" y="382" width="5" height="32" fill="#5a0000"/>
<rect x="1079" y="383" width="3" height="30" fill="#ff0000"/>
<rect x="1084" y="392" width="5" height="1" fill="#0b4a2c"/>
<rect x="1090" y="371" width="5" height="22" fill="#5a0000"/>
<rect x="1091" y="372" width="3" height="20" fill="#ff0000"/>
<rect x="1098" y="446" width="1" height="9" fill="#f4a3ac"/>
<rect x="1096" y="413" width="5" height="33" fill="#5a0000"/>
<rect x="1097" y="414" width="3" height="31" fill="#ff0000"/>
<rect x="1104" y="413" width="1" height="21" fill="#a9ccd6"/>
<rect x="1104" y="435" width="1" height="20" fill="#a9ccd6"/>
<rect x="1102" y="434" width="5" height="1" fill="#0b4a2c"/>
<rect x="1110" y="435" width="1" height="20" fill="#f4a3ac"/>
<rect x="1108" y="413" width="5" height="22" fill="#5a0000"/>
<rect x="1109" y="414" width="3" height="20" fill="#ff0000"/>
<rect x="1116" y="414" width="1" height="20" fill="#a9ccd6"/>
<rect x="1114" y="413" width="5" height="1" fill="#0b4a2c"/>
<rect x="1120" y="392" width="5" height="22" fill="#5a0000"/>
<rect x="1121" y="393" width="3" height="20" fill="#ff0000"/>
<rect x="1128" y="393" width="1" height="20" fill="#a9ccd6"/>
<rect x="1126" y="351" width="5" height="42" fill="#0b4a2c"/>
<rect x="1127" y="352" width="3" height="40" fill="#00e000"/>
<rect x="1134" y="351" width="1" height="20" fill="#a9ccd6"/>
<rect x="1134" y="372" width="1" height="10" fill="#a9ccd6"/>
<rect x="1132" y="371" width="5" height="1" fill="#0b4a2c"/>
<rect x="1140" y="352" width="1" height="19" fill="#a9ccd6"/>
<rect x="1138" y="351" width="5" height="1" fill="#0b4a2c"/>
<rect x="1144" y="361" width="5" height="1" fill="#0b4a2c"/>
<rect x="1150" y="392" width="5" height="1" fill="#0b4a2c"/>
<rect x="1158" y="383" width="1" height="9" fill="#a9ccd6"/>
<rect x="1156" y="371" width="5" height="12" fill="#0b4a2c"/>
<rect x="1157" y="372" width="3" height="10" fill="#00e000"/>
<rect x="1164" y="372" width="1" height="20" fill="#f4a3ac"/>
<rect x="1162" y="351" width="5" height="21" fill="#5a0000"/>
<rect x="1163" y="352" width="3" height="19" fill="#ff0000"/>
<rect x="1168" y="351" width="5" height="42" fill="#0b4a2c"/>
<rect x="1169" y="352" width="3" height="40" fill="#00e000"/>
<rect x="1174" y="371" width="5" height="22" fill="#5a0000"/>
<rect x="1175" y="372" width="3" height="20" fill="#ff0000"/>
<rect x="1182" y="477" width="1" height="41" fill="#f4a3ac"/>
<rect x="1180" y="413" width="5" height="64" fill="#5a0000"/>
<rect x="1181" y="414" width="3" height="62" fill="#ff0000"/>
<rect x="1188" y="476" width="1" height="21" fill="#a9ccd6"/>
<rect x="1186" y="497" width="5" height="1" fill="#0b4a2c"/>
<rect x="1192" y="413" width="5" height="64" fill="#0b4a2c"/>
<rect x="1193" y="414" width="3" height="62" fill="#00e000"/>
<rect x="1200" y="392" width="1" height="21" fill="#a9ccd6"/>
<rect x="1198" y="413" width="5" height="22" fill="#0b4a2c"/>
<rect x="1199" y="414" width="3" height="20" fill="#00e000"/>
<rect x="1204" y="413" width="5" height="22" fill="#0b4a2c"/>
<rect x="1205" y="414" width="3" height="20" fill="#00e000"/>
<rect x="1210" y="434" width="5" height="106" fill="#5a0000"/>
<rect x="1211" y="435" width="3" height="104" fill="#ff0000"/>
<rect x="1216" y="497" width="5" height="64" fill="#0b4a2c"/>
<rect x="1217" y="498" width="3" height="62" fill="#00e000"/>
<rect x="1222" y="476" width="5" height="43" fill="#5a0000"/>
<rect x="1223" y="477" width="3" height="41" fill="#ff0000"/>
<rect x="1230" y="623" width="1" height="62" fill="#f4a3ac"/>
<rect x="1228" y="539" width="5" height="84" fill="#5a0000"/>
<rect x="1229" y="540" width="3" height="82" fill="#ff0000"/>
<rect x="1236" y="665" width="1" height="41" fill="#f4a3ac"/>
<rect x="1234" y="633" width="5" height="32" fill="#5a0000"/>
<rect x="1235" y="634" width="3" height="30" fill="#ff0000"/>
<rect x="1240" y="664" width="5" height="22" fill="#0b4a2c"/>
<rect x="1241" y="665" width="3" height="20" fill="#00e000"/>
<rect x="1246" y="643" width="5" height="43" fill="#0b4a2c"/>
<rect x="1247" y="644" width="3" height="41" fill="#00e000"/>
<rect x="1252" y="664" width="5" height="1" fill="#0b4a2c"/>
<rect x="1260" y="622" width="1" height="21" fill="#a9ccd6"/>
<rect x="1260" y="644" width="1" height="20" fill="#a9ccd6"/>
<rect x="1258" y="643" width="5" height="1" fill="#0b4a2c"/>
<rect x="1264" y="622" width="5" height="1" fill="#0b4a2c"/>
<rect x="1272" y="580" width="1" height="21" fill="#a9ccd6"/>
<rect x="1270" y="601" width="5" height="1" fill="#0b4a2c"/>
<rect x="1278" y="623" width="1" height="41" fill="#a9ccd6"/>
<rect x="1276" y="622" width="5" height="1" fill="#0b4a2c"/>
<rect x="1284" y="613" width="1" height="9" fill="#a9ccd6"/>
<rect x="1282" y="601" width="5" height="12" fill="#0b4a2c"/>
<rect x="1283" y="602" width="3" height="10" fill="#00e000"/>
<rect x="1290" y="560" width="1" height="20" fill="#a9ccd6"/>
<rect x="1288" y="580" width="5" height="1" fill="#0b4a2c"/>
<rect x="1296" y="518" width="1" height="42" fill="#a9ccd6"/>
<rect x="1294" y="560" width="5" height="1" fill="#0b4a2c"/>
<rect x="1302" y="434" width="1" height="42" fill="#a9ccd6"/>
<rect x="1300" y="476" width="5" height="64" fill="#0b4a2c"/>
<rect x="1301" y="477" width="3" height="62" fill="#00e000"/>
<rect x="1306" y="497" width="5" height="1" fill="#0b4a2c"/>
<rect x="1312" y="476" width="5" height="1" fill="#0b4a2c"/>
<rect x="1320" y="476" width="1" height="10" fill="#f4a3ac"/>
<rect x="1318" y="486" width="5" height="12" fill="#5a0000"/>
<rect x="1319" y="487" width="3" height="10" fill="#ff0000"/>
<rect x="1324" y="476" width="5" height="1" fill="#0b4a2c"/>
<rect x="1332" y="476" width="1" height="21" fill="#a9ccd6"/>
<rect x="1330" y="497" width="5" height="1" fill="#0b4a2c"/>
<rect x="1338" y="392" width="1" height="21" fill="#a9ccd6"/>
<rect x="1336" y="413" width="5" height="106" fill="#0b4a2c"/>
<rect x="1337" y="414" width="3" height="104" fill="#00e000"/>
<rect x="1342" y="434" width="5" height="1" fill="#0b4a2c"/>
<rect x="1350" y="446" width="1" height="9" fill="#a9ccd6"/>
<rect x="1348" y="392" width="5" height="54" fill="#0b4a2c"/>
<rect x="1349" y="393" width="3" height="52" fill="#00e000"/>
<rect x="1354" y="413" width="5" height="1" fill="#0b4a2c"/>
<rect x="1360" y="392" width="5" height="1" fill="#0b4a2c"/>
<rect x="1368" y="225" width="1" height="63" fill="#a9ccd6"/>
<rect x="1366" y="288" width="5" height="84" fill="#0b4a2c"/>
<rect x="1367" y="289" width="3" height="82" fill="#00e000"/>
<rect x="1374" y="267" width="1" height="10" fill="#f4a3ac"/>
<rect x="1372" y="277" width="5" height="33" fill="#5a0000"/>
<rect x="1373" y="278" width="3" height="31" fill="#ff0000"/>
<rect x="1380" y="288" width="1" height="10" fill="#f4a3ac"/>
<rect x="1378" y="298" width="5" height="12" fill="#5a0000"/>
<rect x="1379" y="299" width="3" height="10" fill="#ff0000"/>
<rect x="1386" y="309" width="1" height="21" fill="#a9ccd6"/>
<rect x="1384" y="330" width="5" height="1" fill="#0b4a2c"/>
<rect x="1390" y="288" width="5" height="22" fill="#0b4a2c"/>
<rect x="1391" y="289" width="3" height="20" fill="#00e000"/>
<rect x="1396" y="309" width="5" height="22" fill="#5a0000"/>
<rect x="1397" y="310" width="3" height="20" fill="#ff0000"/>
<rect x="1404" y="309" width="1" height="21" fill="#a9ccd6"/>
<rect x="1402" y="330" width="5" height="22" fill="#0b4a2c"/>
<rect x="1403" y="331" width="3" height="20" fill="#00e000"/>
<rect x="1410" y="330" width="1" height="21" fill="#f4a3ac"/>
<rect x="1408" y="351" width="5" height="11" fill="#5a0000"/>
<rect x="1409" y="352" width="3" height="9" fill="#ff0000"/>
<rect x="1416" y="372" width="1" height="20" fill="#a9ccd6"/>
<rect x="1414" y="371" width="5" height="1" fill="#0b4a2c"/>
<rect x="1420" y="351" width="5" height="1" fill="#0b4a2c"/>
<rect x="1426" y="371" width="5" height="22" fill="#5a0000"/>
<rect x="1427" y="372" width="3" height="20" fill="#ff0000"/>
<rect x="1432" y="392" width="5" height="22" fill="#0b4a2c"/>
<rect x="1433" y="393" width="3" height="20" fill="#00e000"/>
<rect x="1440" y="392" width="1" height="21" fill="#a9ccd6"/>
<rect x="1438" y="413" width="5" height="1" fill="#0b4a2c"/>
<rect x="1446" y="371" width="1" height="32" fill="#f4a3ac"/>
<rect x="1444" y="403" width="5" height="11" fill="#5a0000"/>
<rect x="1445" y="404" width="3" height="9" fill="#ff0000"/>
<rect x="1452" y="435" width="1" height="20" fill="#a9ccd6"/>
<rect x="1450" y="434" width="5" height="1" fill="#0b4a2c"/>
<rect x="1456" y="434" width="5" height="12" fill="#0b4a2c"/>
<rect x="1457" y="435" width="3" height="10" fill="#00e000"/>
<rect x="1462" y="445" width="5" height="11" fill="#5a0000"/>
<rect x="1463" y="446" width="3" height="9" fill="#ff0000"/>
<rect x="1470" y="446" width="1" height="9" fill="#a9ccd6"/>
<rect x="1468" y="434" width="5" height="12" fill="#0b4a2c"/>
<rect x="1469" y="435" width="3" height="10" fill="#00e000"/>
<rect x="1476" y="403" width="1" height="10" fill="#a9ccd6"/>
<rect x="1474" y="413" width="5" height="1" fill="#0b4a2c"/>
</g>
<line x1="8" y1="413.5" x2="1796" y2="413.5" stroke="#00d800" stroke-width="1" stroke-dasharray="2,1" shape-rendering="crispEdges"/>
<g shape-rendering="crispEdges" fill="#555555">
<rect x="8" y="875" width="1789" height="1"/>
<rect x="1796" y="58" width="1" height="818"/>
<rect x="19" y="876" width="1" height="3"/>
<rect x="151" y="876" width="1" height="3"/>
<rect x="235" y="876" width="1" height="3"/>
<rect x="361" y="876" width="1" height="3"/>
<rect x="457" y="876" width="1" height="3"/>
<rect x="541" y="876" width="1" height="3"/>
<rect x="667" y="876" width="1" height="3"/>
<rect x="751" y="876" width="1" height="3"/>
<rect x="877" y="876" width="1" height="3"/>
<rect x="979" y="876" width="1" height="3"/>
<rect x="1069" y="876" width="1" height="3"/>
<rect x="1153" y="876" width="1" height="3"/>
<rect x="1231" y="876" width="1" height="3"/>
<rect x="1363" y="876" width="1" height="3"/>
<rect x="1471" y="876" width="1" height="3"/>
<rect x="1579" y="876" width="1" height="3"/>
<rect x="1687" y="876" width="1" height="3"/>
<rect x="1797" y="842" width="3" height="1"/>
<rect x="1797" y="800" width="3" height="1"/>
<rect x="1797" y="758" width="3" height="1"/>
<rect x="1797" y="716" width="3" height="1"/>
<rect x="1797" y="675" width="3" height="1"/>
<rect x="1797" y="633" width="3" height="1"/>
<rect x="1797" y="591" width="3" height="1"/>
<rect x="1797" y="549" width="3" height="1"/>
<rect x="1797" y="507" width="3" height="1"/>
<rect x="1797" y="466" width="3" height="1"/>
<rect x="1797" y="424" width="3" height="1"/>
<rect x="1797" y="382" width="3" height="1"/>
<rect x="1797" y="340" width="3" height="1"/>
<rect x="1797" y="298" width="3" height="1"/>
<rect x="1797" y="257" width="3" height="1"/>
<rect x="1797" y="215" width="3" height="1"/>
<rect x="1797" y="173" width="3" height="1"/>
<rect x="1797" y="131" width="3" height="1"/>
<rect x="1797" y="89" width="3" height="1"/>
</g>
<g font-size="11" fill="#555555" style="letter-spacing:-0.15px">
<text x="1803" y="846.6">2352.00</text>
<text x="1803" y="804.6">2354.00</text>
<text x="1803" y="762.6">2356.00</text>
<text x="1803" y="720.6">2358.00</text>
<text x="1803" y="679.6">2360.00</text>
<text x="1803" y="637.6">2362.00</text>
<text x="1803" y="595.6">2364.00</text>
<text x="1803" y="553.6">2366.00</text>
<text x="1803" y="511.6">2368.00</text>
<text x="1803" y="470.6">2370.00</text>
<text x="1803" y="428.6">2372.00</text>
<text x="1803" y="386.6">2374.00</text>
<text x="1803" y="344.6">2376.00</text>
<text x="1803" y="302.6">2378.00</text>
<text x="1803" y="261.6">2380.00</text>
<text x="1803" y="219.6">2382.00</text>
<text x="1803" y="177.6">2384.00</text>
<text x="1803" y="135.6">2386.00</text>
<text x="1803" y="93.6">2388.00</text>
<text x="19.5" y="890" text-anchor="middle" style="letter-spacing:-0.35px">15:00</text>
<text x="151.5" y="890" text-anchor="middle" font-weight="bold">18</text>
<text x="235.5" y="890" text-anchor="middle" style="letter-spacing:-0.35px">10:00</text>
<text x="361.5" y="890" text-anchor="middle" style="letter-spacing:-0.35px">12:00</text>
<text x="457.5" y="890" text-anchor="middle" style="letter-spacing:-0.35px">13:30</text>
<text x="541.5" y="890" text-anchor="middle" style="letter-spacing:-0.35px">15:00</text>
<text x="667.5" y="890" text-anchor="middle" font-weight="bold">23</text>
<text x="751.5" y="890" text-anchor="middle" style="letter-spacing:-0.35px">10:00</text>
<text x="877.5" y="890" text-anchor="middle" style="letter-spacing:-0.35px">12:00</text>
<text x="979.5" y="890" text-anchor="middle" style="letter-spacing:-0.35px">13:30</text>
<text x="1069.5" y="890" text-anchor="middle" style="letter-spacing:-0.35px">15:05</text>
<text x="1153.5" y="890" text-anchor="middle" font-weight="bold">24</text>
<text x="1231.5" y="890" text-anchor="middle" style="letter-spacing:-0.35px">10:00</text>
<text x="1363.5" y="890" text-anchor="middle" style="letter-spacing:-0.35px">12:00</text>
<text x="1471.5" y="890" text-anchor="middle" style="letter-spacing:-0.35px">13:30</text>
<text x="1579.5" y="890" text-anchor="middle" style="letter-spacing:-0.35px">15:00</text>
<text x="1687.5" y="890" text-anchor="middle" style="letter-spacing:-0.35px">16:30</text>
<text x="1794" y="890" text-anchor="end">18</text>
</g>
<rect x="1796" y="406" width="50" height="16" fill="#00d800" shape-rendering="crispEdges"/>
<rect x="1796" y="413" width="3" height="1" fill="#fff" shape-rendering="crispEdges"/>
<text x="1803" y="418" font-size="11" fill="#fff">2372.50</text>
<text x="21.4" y="858.6" font-size="20.8" font-weight="bold" fill="#0a0a0a" stroke="#0a0a0a" stroke-width="0.7" textLength="89.0" lengthAdjust="spacingAndGlyphs">Investing</text>
<text x="111.6" y="858.8" font-size="16.3" fill="#606060" textLength="29.2" lengthAdjust="spacingAndGlyphs">.com</text>
<rect x="80.6" y="841" width="5.0" height="5.8" fill="#fff"/>
<rect x="80" y="842" width="6" height="1" fill="#efefef" shape-rendering="crispEdges"/>
<ellipse cx="83.2" cy="844.0" rx="2.7" ry="1.9" fill="#fba300" transform="rotate(-32 83.2 844.0)"/>
</svg></body></html>
